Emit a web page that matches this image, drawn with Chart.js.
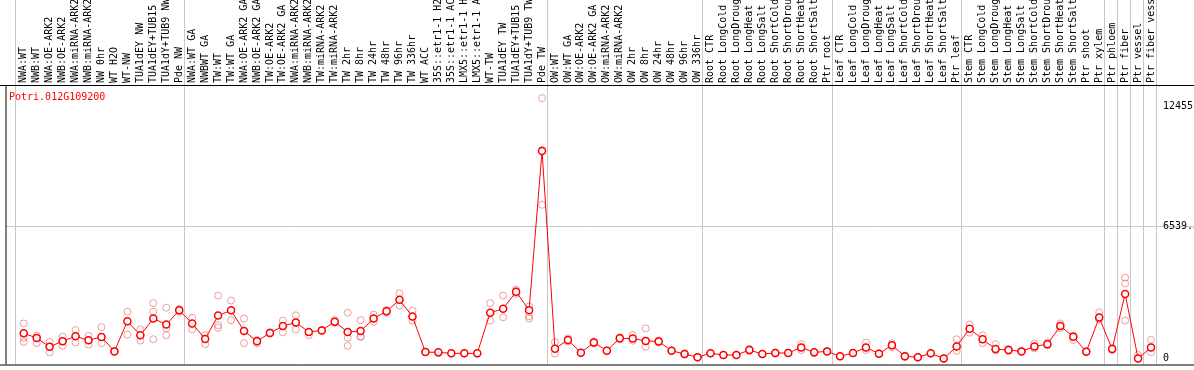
<!DOCTYPE html>
<html>
<head>
<meta charset="utf-8">
<script src="https://cdn.jsdelivr.net/npm/chart.js@4/dist/chart.umd.min.js"></script>
<style>
  html, body { margin: 0; padding: 0; background: #fff; }
  #wrap { width: 1194px; height: 370px; }
</style>
</head>
<body>
<div id="wrap"><canvas id="exprChart"></canvas></div>
<script>
const geneId = "Potri.012G109200";

const samples = [
  "NWA:WT", "NWB:WT", "NWA:OE-ARK2", "NWB:OE-ARK2", "NWA:miRNA-ARK2", "NWB:miRNA-ARK2",
  "NW 0hr", "WT H2O", "WT-NW", "TUA1dEY NW", "TUA1dEY+TUB15 NW", "TUA1dY+TUB9 NW", "Pde NW",
  "NWA:WT GA", "NWBWT GA", "TW:WT", "TW:WT GA", "NWA:OE-ARK2 GA", "NWB:OE-ARK2 GA",
  "TW:OE-ARK2", "TW:OE-ARK2 GA", "NWA:miRNA-ARK2 GA", "NWB:miRNA-ARK2 GA", "TW:miRNA-ARK2",
  "TW:miRNA-ARK2 GA", "TW 2hr", "TW 8hr", "TW 24hr", "TW 48hr", "TW 96hr", "TW 336hr",
  "WT ACC", "35S::etr1-1 H2O", "35S::etr1-1 ACC", "LMX5::etr1-1 H2O", "LMX5::etr1-1 ACC",
  "WT-TW", "TUA1dEY TW", "TUA1dEY+TUB15 TW", "TUA1dY+TUB9 TW", "Pde TW",
  "OW:WT", "OW:WT GA", "OW:OE-ARK2", "OW:OE-ARK2 GA", "OW:miRNA-ARK2", "OW:miRNA-ARK2 GA",
  "OW 2hr", "OW 8hr", "OW 24hr", "OW 48hr", "OW 96hr", "OW 336hr",
  "Root CTR", "Root LongCold", "Root LongDrought", "Root LongHeat", "Root LongSalt",
  "Root ShortCold", "Root ShortDrought", "Root ShortHeat", "Root ShortSalt", "Ptr root",
  "Leaf CTR", "Leaf LongCold", "Leaf LongDrought", "Leaf LongHeat", "Leaf LongSalt",
  "Leaf ShortCold", "Leaf ShortDrought", "Leaf ShortHeat", "Leaf ShortSalt", "Ptr leaf",
  "Stem CTR", "Stem LongCold", "Stem LongDrought", "Stem LongHeat", "Stem LongSalt",
  "Stem ShortCold", "Stem ShortDrought", "Stem ShortHeat", "Stem ShortSalt", "Ptr shoot",
  "Ptr xylem", "Ptr phloem", "Ptr fiber", "Ptr vessel", "Ptr fiber vessel"
];

// mean expression per sample
const meanExpr = [
  1248, 1019, 583, 858, 1100, 906, 1068, 356, 1845, 1149, 1974, 1683, 2379,
  1733, 971, 2120, 2379, 1359, 858, 1262, 1602, 1780, 1311, 1392, 1813, 1311, 1359, 1974, 2330,
  2897, 2071, 324, 307, 259, 259, 259, 2265, 2460, 3301, 2379, 10243,
  486, 922, 291, 793, 388, 1003, 987, 874, 841, 388, 227, 65,
  259, 178, 178, 421, 227, 275, 275, 550, 307, 356,
  113, 275, 550, 240, 663, 113, 65, 259, 0, 598,
  1473, 955, 469, 421, 356, 598, 712, 1602, 1083, 340,
  2023, 469, 3189, 0, 550
];

// individual replicates
const rep1 = [
  1733, 1130, 825, 1083, 1408, 1117, 1554, 356, 2314, 1440, 2735, 2509, 2450,
  2005, 1165, 3107, 2864, 1974, 920, 1300, 1877, 2136, 1311, 1392, 1900, 2265, 1893, 2168, 2400,
  3220, 2363, 324, 307, 259, 259, 259, 2735, 3107, 3400, 2573, 12850,
  809, 1000, 291, 850, 388, 1060, 1165, 1489, 900, 388, 260, 65,
  259, 178, 178, 480, 227, 300, 275, 712, 307, 356,
  113, 275, 793, 260, 760, 150, 65, 259, 0, 955,
  1683, 1149, 712, 480, 356, 744, 800, 1733, 1150, 340,
  2282, 520, 3996, 178, 922
];
const rep2 = [
  1034, 1019, 583, 858, 1100, 906, 1068, 356, 1845, 1149, 2314, 1505, 2379,
  1440, 971, 1651, 2379, 1359, 858, 1240, 1602, 1780, 1149, 1392, 1813, 1034, 1083, 1974, 2330,
  2897, 2071, 324, 307, 259, 259, 259, 2265, 2460, 3301, 2088, 10290,
  486, 922, 291, 793, 388, 1003, 987, 874, 841, 388, 227, 65,
  259, 178, 178, 421, 227, 275, 275, 550, 307, 356,
  113, 275, 550, 240, 663, 113, 65, 259, 0, 598,
  1473, 955, 469, 421, 356, 598, 712, 1602, 1083, 340,
  2023, 469, 3704, 0, 550
];
const rep3 = [
  825, 762, 306, 631, 793, 696, 761, 356, 1181, 890, 955, 1149, 2300,
  1733, 712, 1521, 1893, 761, 760, 1262, 1295, 1440, 1311, 1392, 1760, 631, 1083, 1813, 2260,
  2606, 1877, 324, 307, 259, 259, 259, 1877, 2039, 3200, 1974, 7588,
  243, 850, 291, 740, 388, 950, 880, 583, 800, 388, 200, 65,
  259, 178, 178, 360, 227, 250, 275, 420, 307, 356,
  113, 275, 420, 220, 560, 80, 65, 259, 0, 388,
  1278, 761, 400, 370, 356, 500, 650, 1500, 922, 340,
  1926, 420, 1877, 0, 307
];

// sample groups end after these indices (vertical separators)
const groupEnds = [-1, 12, 40, 52, 62, 72, 83, 84, 85, 86, 87];

const yTicks = [0, 6539.5, 12455];
const yTickLabels = ["0", "6539.5", "12455"];

const monoFont = { family: "'DejaVu Sans Mono', monospace", size: 10 };

const toPoints = arr => arr.map((v, i) => ({ x: i, y: v }));

// separators, frame and gene label
const framePlugin = {
    id: "frame",
    beforeDatasetsDraw(chart) {
        const { ctx, chartArea, scales } = chart;
        ctx.save();
        ctx.strokeStyle = "#c8c8c8";
        ctx.lineWidth = 1;
        groupEnds.forEach(g => {
            const px = Math.round(scales.x.getPixelForValue(g + 0.35)) + 0.5;
            ctx.beginPath();
            ctx.moveTo(px, 0);
            ctx.lineTo(px, chartArea.bottom);
            ctx.stroke();
        });
        ctx.strokeStyle = "#000";
        ctx.beginPath();
        ctx.moveTo(0, chartArea.top + 0.5);
        ctx.lineTo(chart.width, chartArea.top + 0.5);
        ctx.moveTo(0, chartArea.bottom + 0.5);
        ctx.lineTo(chart.width, chartArea.bottom + 0.5);
        ctx.moveTo(chartArea.left + 0.5, chartArea.top);
        ctx.lineTo(chartArea.left + 0.5, chartArea.bottom);
        ctx.stroke();
        ctx.fillStyle = "#ff0000";
        ctx.font = "10px 'DejaVu Sans Mono', monospace";
        ctx.textBaseline = "middle";
        ctx.fillText(geneId, 9, chartArea.top + 12);
        ctx.restore();
    }
};

const repStyle = {
    showLine: false,
    pointRadius: 3.5,
    pointBorderWidth: 1,
    pointBorderColor: "rgba(225, 80, 80, 0.55)",
    pointBackgroundColor: "rgba(0,0,0,0)",
    pointHoverRadius: 3.5
};

const ctx = document.getElementById("exprChart").getContext("2d");
new Chart(ctx, {
    type: "scatter",
    data: {
        datasets: [
            {
                label: "mean",
                data: toPoints(meanExpr),
                showLine: true,
                borderColor: "#ff0000",
                borderWidth: 1,
                pointRadius: 3.5,
                pointBorderWidth: 1.5,
                pointBorderColor: "#ff0000",
                pointBackgroundColor: "#ffffff"
            },
            { label: "rep1", data: toPoints(rep1), ...repStyle },
            { label: "rep2", data: toPoints(rep2), ...repStyle },
            { label: "rep3", data: toPoints(rep3), ...repStyle }
        ]
    },
    options: {
        responsive: true,
        maintainAspectRatio: false,
        animation: false,
        layout: { padding: { left: 1, right: 0, top: 0, bottom: 1 } },
        scales: {
            x: {
                type: "linear",
                position: "top",
                min: -1.4068,
                max: 87.923,
                afterBuildTicks: s => { s.ticks = samples.map((_, i) => ({ value: i })); },
                afterFit: s => { s.height = 85; },
                grid: { display: false, drawTicks: false },
                border: { display: false },
                ticks: {
                    autoSkip: false,
                    minRotation: 90,
                    maxRotation: 90,
                    padding: 2,
                    labelOffset: 12,
                    color: "#000",
                    font: monoFont,
                    callback: v => samples[v] ?? ""
                }
            },
            y: {
                position: "right",
                min: -291.3,
                max: 13496,
                afterBuildTicks: s => { s.ticks = yTicks.map(v => ({ value: v })); },
                afterFit: s => { s.width = 31; },
                border: { display: false },
                grid: {
                    drawTicks: true,
                    tickLength: 31,
                    color: c => (c.tick && c.tick.value === 6539.5 ? "#c8c8c8" : "rgba(0,0,0,0)")
                },
                ticks: {
                    padding: -31,
                    color: "#000",
                    font: monoFont,
                    callback: v => yTickLabels[yTicks.indexOf(v)]
                }
            }
        },
        plugins: {
            legend: { display: false },
            tooltip: { enabled: false }
        }
    },
    plugins: [framePlugin]
});
</script>
</body>
</html>
